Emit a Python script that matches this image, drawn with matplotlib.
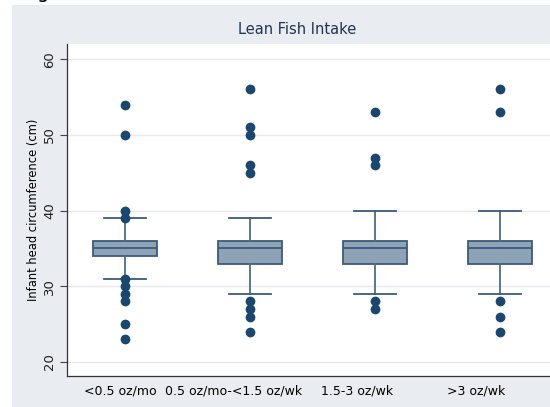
import matplotlib.pyplot as plt
from matplotlib.patches import Rectangle

# grupos y estadisticos
grupos = ['<0.5 oz/mo', '0.5 oz/mo-<1.5 oz/wk', '1.5-3 oz/wk', '>3 oz/wk']
q1 = [34, 33, 33, 33]
mediana = [35, 35, 35, 35]
q3 = [36, 36, 36, 36]
bigote_inf = [31, 29, 29, 29]
bigote_sup = [39, 39, 40, 40]
atipicos = [
    [54, 50, 40, 39, 31, 30, 29, 28, 25, 23],
    [56, 51, 50, 46, 45, 28, 27, 26, 24],
    [53, 47, 46, 28, 27],
    [56, 53, 28, 26, 24],
]
pos_etiquetas = [0.96, 1.87, 2.86, 3.81]

W, H = 550, 407
fig = plt.figure(figsize=(W / 100, H / 100), dpi=100)
fig.patch.set_facecolor('white')

gris = '#e9ecf1'
fondo = Rectangle((12 / W, 0), 1 - 12 / W, 1 - 5 / H,
                  transform=fig.transFigure, facecolor=gris,
                  edgecolor='none', zorder=-5)
fig.add_artist(fondo)
# letra cortada arriba (resto del texto de la pagina)
fig.text(37 / W, 1 + 2 / H, 'g', fontsize=14, va='baseline', color='black')

ax = fig.add_axes([67 / W, (H - 376) / H, (W - 67) / W, (376 - 44) / H])
ax.set_facecolor('white')

stats = []
for i in range(len(grupos)):
    stats.append({'q1': q1[i], 'med': mediana[i], 'q3': q3[i],
                  'whislo': bigote_inf[i], 'whishi': bigote_sup[i],
                  'fliers': atipicos[i]})

borde = '#3b5b7d'
ax.bxp(stats, positions=[1, 2, 3, 4], widths=0.51, patch_artist=True,
       showfliers=True,
       boxprops=dict(facecolor='#8fa3b6', edgecolor=borde, linewidth=1.3),
       medianprops=dict(color=borde, linewidth=1.3),
       whiskerprops=dict(color='#4d6b8b', linewidth=1.3),
       capprops=dict(color=borde, linewidth=1.3),
       capwidths=0.33,
       flierprops=dict(marker='o', markerfacecolor='#1a476f',
                       markeredgecolor='#1a476f', markersize=6))

ax.set_xlim(0.536, 4.4)
ax.set_ylim(18.15, 62)
ax.set_yticks([20, 30, 40, 50, 60])
ax.set_yticklabels(['20', '30', '40', '50', '60'], rotation=90, va='center',
                   fontsize=9.5, color='#222222')
ax.set_xticks(pos_etiquetas)
ax.set_xticklabels(grupos, fontsize=9, color='black')
ax.tick_params(axis='x', length=0, pad=6)
ax.tick_params(axis='y', length=5, width=0.8, color='#444444', pad=3)
ax.grid(axis='y', color='#e6eaef', linewidth=1.0)
ax.set_axisbelow(True)

for lado in ['top', 'right']:
    ax.spines[lado].set_visible(False)
for lado in ['left', 'bottom']:
    ax.spines[lado].set_color('#333333')
    ax.spines[lado].set_linewidth(0.9)

ax.set_ylabel('Infant head circumference (cm)', fontsize=8.3, labelpad=2)
fig.text(297 / W, 1 - 30 / H, 'Lean Fish Intake', fontsize=10.5,
         color='#1e3550', ha='center', va='center')

plt.savefig('out.png', dpi=100)
